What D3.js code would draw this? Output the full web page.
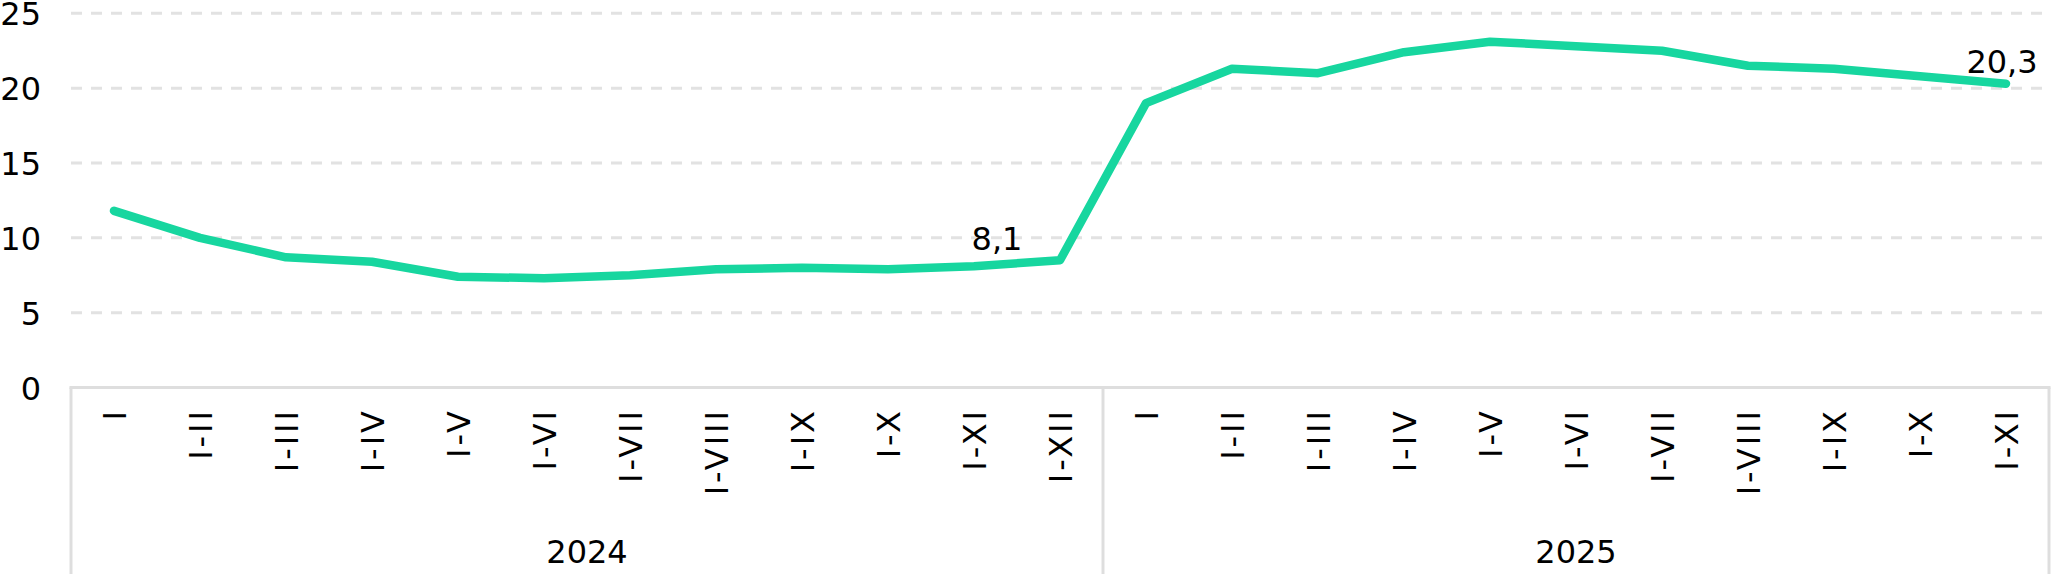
<!DOCTYPE html>
<html>
<head>
<meta charset="utf-8">
<script src="https://cdn.jsdelivr.net/npm/d3@7"></script>
<style>
  html, body { margin: 0; padding: 0; background: #ffffff; }
  svg { display: block; }
  text { font-family: "DejaVu Sans", Verdana, sans-serif; fill: #000; }
</style>
</head>
<body>
<svg id="chart" width="2053" height="574"></svg>
<script>
// ---- data ----
const years = ["2024", "2025"];
const periods2024 = ["I", "I-II", "I-III", "I-IV", "I-V", "I-VI", "I-VII", "I-VIII", "I-IX", "I-X", "I-XI", "I-XII"];
const periods2025 = ["I", "I-II", "I-III", "I-IV", "I-V", "I-VI", "I-VII", "I-VIII", "I-IX", "I-X", "I-XI"];
const values2024 = [11.8, 10.0, 8.7, 8.4, 7.4, 7.3, 7.5, 7.9, 8.0, 7.9, 8.1, 8.5];
const values2025 = [19.0, 21.3, 21.0, 22.4, 23.1, 22.8, 22.5, 21.5, 21.3, 20.8, 20.3];
const yTicks = [0, 5, 10, 15, 20, 25];
const labelPoints = [
  { year: "2024", period: "I-XI", text: "8,1" },
  { year: "2025", period: "I-XI", text: "20,3" }
];

(function () {
// ---- build table ----
const rows = [];
periods2024.forEach((p, i) => rows.push({ key: "2024|" + p, year: "2024", period: p, value: values2024[i] }));
periods2025.forEach((p, i) => rows.push({ key: "2025|" + p, year: "2025", period: p, value: values2025[i] }));

// ---- layout ----
const mLeft = 71, mRight = 2049, mTop = 13.3, mBottom = 387.5, H = 574;
const svg = d3.select("#chart");

const x = d3.scaleBand().domain(rows.map(d => d.key)).range([mLeft, mRight]).padding(0);
const y = d3.scaleLinear().domain([0, 25]).range([mBottom, mTop]);
const cx = k => x(k) + x.bandwidth() / 2;

const lightGray = "#dedede";

// gridlines (dashed)
svg.append("g").selectAll("line")
  .data(yTicks.filter(t => t > 0))
  .join("line")
  .attr("x1", mLeft).attr("x2", mRight)
  .attr("y1", d => y(d)).attr("y2", d => y(d))
  .attr("stroke", "#e2e2e2")
  .attr("stroke-width", 3)
  .attr("stroke-dasharray", "11,9");

// y axis labels
const yAxis = d3.axisLeft(y).tickValues(yTicks).tickSize(0).tickPadding(30).tickFormat(d3.format("d"));
const gy = svg.append("g").attr("transform", `translate(${mLeft},0)`).call(yAxis);
gy.select(".domain").remove();
gy.selectAll("text").style("font-size", "32px").attr("dy", "0.36em").attr("fill", "#000")
  .style("font-family", '"DejaVu Sans", Verdana, sans-serif');

// axis box: top line (zero) and group separators
svg.append("line")
  .attr("x1", mLeft - 1.5).attr("x2", mRight + 1.5)
  .attr("y1", y(0)).attr("y2", y(0))
  .attr("stroke", lightGray).attr("stroke-width", 3);

const groupBounds = [];
years.forEach(yr => {
  const keys = rows.filter(r => r.year === yr).map(r => r.key);
  groupBounds.push({ year: yr, x0: x(keys[0]), x1: x(keys[keys.length - 1]) + x.bandwidth() });
});
const sepXs = [groupBounds[0].x0, ...groupBounds.map(g => g.x1)];
svg.append("g").selectAll("line")
  .data(sepXs)
  .join("line")
  .attr("x1", d => d).attr("x2", d => d)
  .attr("y1", y(0)).attr("y2", H)
  .attr("stroke", lightGray).attr("stroke-width", 3);

// category labels (rotated)
svg.append("g").selectAll("text")
  .data(rows)
  .join("text")
  .attr("transform", d => `translate(${cx(d.key)},411) rotate(-90)`)
  .attr("text-anchor", "end")
  .attr("dy", "0.36em")
  .attr("dx", "3")
  .style("font-size", "32px")
  .style("letter-spacing", "3px")
  .text(d => d.period);

// year labels
svg.append("g").selectAll("text")
  .data(groupBounds)
  .join("text")
  .attr("x", d => (d.x0 + d.x1) / 2)
  .attr("y", 563)
  .attr("text-anchor", "middle")
  .style("font-size", "32px")
  .text(d => d.year);

// line
const line = d3.line().x(d => cx(d.key)).y(d => y(d.value));
svg.append("path")
  .datum(rows)
  .attr("d", line)
  .attr("fill", "none")
  .attr("stroke", "#17d69f")
  .attr("stroke-width", 8.5)
  .attr("stroke-linecap", "round")
  .attr("stroke-linejoin", "round");

// data labels
const labelOffsets = { "2024|I-XI": [23, -16], "2025|I-XI": [-4, -11] };
svg.append("g").selectAll("text")
  .data(labelPoints)
  .join("text")
  .attr("x", d => { const k = d.year + "|" + d.period; return cx(k) + labelOffsets[k][0]; })
  .attr("y", d => { const k = d.year + "|" + d.period; const r = rows.find(r => r.key === k); return y(r.value) + labelOffsets[k][1]; })
  .attr("text-anchor", "middle")
  .style("font-size", "32px")
  .text(d => d.text);
})();
</script>
</body>
</html>
